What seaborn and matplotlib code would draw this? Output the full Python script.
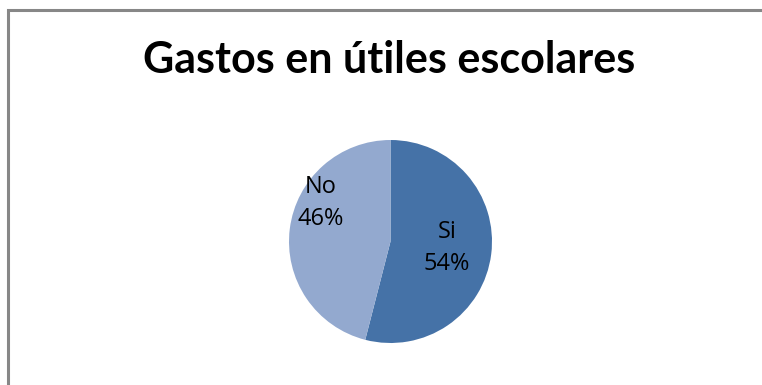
import matplotlib
matplotlib.use("Agg")
import matplotlib.pyplot as plt
from matplotlib.patches import Rectangle
import seaborn as sns

# Survey answers and their shares
categories = ["Si", "No"]
shares = [54, 46]
slice_colors = ["#4572A7", "#93A9CF"]
title = "Gastos en útiles escolares"

sns.set_theme(style="white")
plt.rcParams["font.family"] = ["Lato", "DejaVu Sans"]

W, H = 762, 385
fig = plt.figure(figsize=(W / 100, H / 100), dpi=100)
ax = fig.add_axes([0, 0, 1, 1])

cx, cy, r = 390.5, H - 241.5, 101.5
ax.pie(shares, colors=slice_colors, startangle=90, counterclock=False,
       center=(cx, cy), radius=r, wedgeprops=dict(linewidth=0))

# pixel-like data coordinates over the whole figure
ax.set_xlim(0, W)
ax.set_ylim(0, H)
ax.set_aspect("equal")
ax.axis("off")

# chart frame
ax.add_patch(Rectangle((8, -20), W + 20, H - 10 + 20, fill=False,
                       edgecolor="#878787", linewidth=2.2, zorder=0,
                       clip_on=False))

# data labels placed inside each slice
label_pos = {"Si": (447, 248), "No": (321, 203)}
for cat, val in zip(categories, shares):
    x, y = label_pos[cat]
    ax.text(x, H - y, f"{cat}\n{val}%", ha="center", va="center",
            fontsize=17, color="black", linespacing=1.4,
            family=["Open Sans", "DejaVu Sans"])

ax.text(389, H - 73, title, ha="center", va="baseline", fontsize=31,
        fontweight="bold", color="black")

fig.savefig("out.png", dpi=100)
